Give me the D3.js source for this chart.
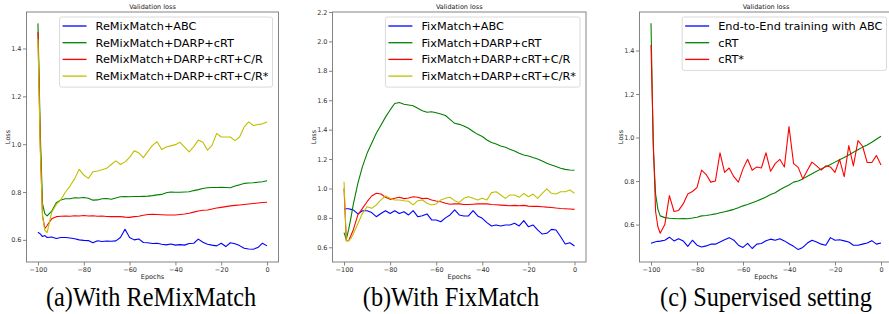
<!DOCTYPE html>
<html>
<head>
<meta charset="utf-8">
<script src="https://cdn.jsdelivr.net/npm/d3@7"></script>
<style>
  body { margin: 0; background: #fff; }
  svg { display: block; }
</style>
</head>
<body>
<div id="chart"></div>
<script>
// epochs on the x axis (finer steps where the curves drop)
var epochs = [-100, -99, -98, -97, -96, -94, -92, -90, -88, -86, -84, -82, -80, -78, -76, -74, -72, -70, -68, -66,
  -64, -62, -60, -58, -56, -54, -52, -50, -48, -46, -44, -42, -40, -38, -36, -34, -32, -30, -28, -26,
  -24, -22, -20, -18, -16, -14, -12, -10, -8, -6, -4, -2, 0];

// (a) ReMixMatch
var remixAbc = [0.632, 0.625, 0.614, 0.618, 0.610, 0.612, 0.606, 0.610, 0.610, 0.608, 0.605, 0.600, 0.598, 0.597, 0.588, 0.596, 0.593, 0.595, 0.594, 0.596,
  0.610, 0.644, 0.610, 0.600, 0.604, 0.589, 0.588, 0.585, 0.586, 0.582, 0.579, 0.583, 0.578, 0.580, 0.578, 0.585, 0.586, 0.603, 0.590, 0.582,
  0.578, 0.575, 0.586, 0.572, 0.588, 0.584, 0.576, 0.565, 0.562, 0.561, 0.568, 0.586, 0.575];
var remixDarp = [1.505, 1.05, 0.75, 0.71, 0.70, 0.72, 0.755, 0.767, 0.772, 0.772, 0.776, 0.775, 0.777, 0.774, 0.766, 0.767, 0.772, 0.773, 0.770, 0.775,
  0.780, 0.781, 0.780, 0.781, 0.781, 0.782, 0.783, 0.785, 0.788, 0.790, 0.797, 0.800, 0.799, 0.799, 0.800, 0.801, 0.806, 0.810, 0.815, 0.818,
  0.819, 0.819, 0.820, 0.819, 0.818, 0.825, 0.830, 0.836, 0.838, 0.839, 0.841, 0.843, 0.847];
var remixDarpCR = [1.47, 1.0, 0.70, 0.648, 0.66, 0.688, 0.697, 0.699, 0.700, 0.699, 0.701, 0.700, 0.702, 0.700, 0.701, 0.699, 0.700, 0.698, 0.697, 0.698,
  0.697, 0.695, 0.694, 0.697, 0.699, 0.703, 0.706, 0.707, 0.706, 0.705, 0.704, 0.704, 0.704, 0.706, 0.708, 0.711, 0.716, 0.721, 0.724, 0.725,
  0.729, 0.733, 0.736, 0.739, 0.742, 0.744, 0.746, 0.748, 0.750, 0.752, 0.754, 0.756, 0.757];
var remixDarpCRStar = [1.44, 0.98, 0.70, 0.64, 0.63, 0.715, 0.748, 0.767, 0.800, 0.825, 0.855, 0.895, 0.871, 0.857, 0.885, 0.888, 0.893, 0.899, 0.915, 0.930,
  0.915, 0.926, 0.945, 0.972, 0.964, 0.944, 0.970, 0.995, 1.010, 0.978, 0.988, 0.993, 0.998, 1.008, 0.988, 0.968, 0.990, 1.017, 1.008, 0.975,
  0.995, 1.045, 1.030, 1.030, 1.030, 1.015, 1.030, 1.072, 1.093, 1.078, 1.082, 1.085, 1.093];

// (b) FixMatch
var fixAbc = [0.860, 0.862, 0.862, 0.858, 0.854, 0.827, 0.849, 0.849, 0.836, 0.808, 0.830, 0.849, 0.830, 0.849, 0.830, 0.842, 0.820, 0.849, 0.808, 0.815,
  0.827, 0.786, 0.786, 0.774, 0.800, 0.820, 0.854, 0.820, 0.813, 0.813, 0.849, 0.813, 0.797, 0.768, 0.745, 0.752, 0.745, 0.752, 0.752, 0.763,
  0.745, 0.781, 0.740, 0.752, 0.718, 0.690, 0.695, 0.722, 0.718, 0.672, 0.622, 0.631, 0.609];
var fixDarp = [0.70, 0.655, 0.72, 0.80, 0.89, 1.035, 1.149, 1.239, 1.307, 1.375, 1.430, 1.485, 1.534, 1.578, 1.585, 1.573, 1.568, 1.562, 1.545, 1.529,
  1.518, 1.522, 1.515, 1.507, 1.496, 1.470, 1.443, 1.436, 1.425, 1.409, 1.387, 1.368, 1.353, 1.330, 1.312, 1.303, 1.289, 1.280, 1.266, 1.255,
  1.239, 1.228, 1.221, 1.210, 1.200, 1.187, 1.171, 1.160, 1.149, 1.138, 1.130, 1.126, 1.124];
var fixDarpCR = [1.0, 0.645, 0.645, 0.68, 0.718, 0.820, 0.865, 0.910, 0.949, 0.967, 0.962, 0.940, 0.926, 0.933, 0.940, 0.931, 0.935, 0.944, 0.940, 0.931,
  0.933, 0.922, 0.915, 0.910, 0.900, 0.893, 0.895, 0.895, 0.891, 0.891, 0.893, 0.895, 0.895, 0.895, 0.891, 0.889, 0.887, 0.885, 0.882, 0.885,
  0.882, 0.885, 0.880, 0.878, 0.878, 0.876, 0.873, 0.871, 0.867, 0.864, 0.862, 0.860, 0.858];
var fixDarpCRStar = [1.045, 0.645, 0.645, 0.66, 0.69, 0.760, 0.831, 0.876, 0.865, 0.888, 0.922, 0.949, 0.933, 0.922, 0.922, 0.917, 0.913, 0.888, 0.917, 0.922,
  0.900, 0.888, 0.895, 0.922, 0.933, 0.940, 0.917, 0.905, 0.933, 0.944, 0.933, 0.922, 0.933, 0.922, 0.972, 0.978, 0.956, 0.933, 0.956, 0.956,
  0.940, 0.967, 0.944, 0.962, 0.933, 0.967, 0.997, 0.967, 0.962, 0.978, 0.978, 0.990, 0.967];

// (c) supervised
var supAbc = [0.514, 0.518, 0.521, 0.523, 0.524, 0.528, 0.542, 0.525, 0.535, 0.525, 0.500, 0.528, 0.505, 0.497, 0.502, 0.510, 0.510, 0.520, 0.530, 0.540,
  0.528, 0.505, 0.495, 0.514, 0.490, 0.510, 0.513, 0.526, 0.533, 0.528, 0.535, 0.525, 0.512, 0.500, 0.485, 0.495, 0.515, 0.528, 0.520, 0.510,
  0.505, 0.540, 0.528, 0.530, 0.525, 0.520, 0.505, 0.505, 0.510, 0.515, 0.526, 0.510, 0.515];
var supCrt = [1.525, 0.95, 0.74, 0.67, 0.64, 0.632, 0.629, 0.628, 0.627, 0.628, 0.627, 0.630, 0.634, 0.640, 0.642, 0.645, 0.649, 0.654, 0.659, 0.664,
  0.670, 0.677, 0.686, 0.692, 0.700, 0.708, 0.717, 0.727, 0.738, 0.746, 0.760, 0.772, 0.782, 0.795, 0.800, 0.810, 0.822, 0.834, 0.845, 0.856,
  0.866, 0.876, 0.887, 0.898, 0.908, 0.920, 0.932, 0.944, 0.956, 0.966, 0.978, 0.992, 1.006];
var supCrtStar = [1.425, 0.98, 0.66, 0.59, 0.56, 0.60, 0.733, 0.660, 0.665, 0.695, 0.741, 0.752, 0.770, 0.850, 0.830, 0.795, 0.800, 0.930, 0.840, 0.860,
  0.820, 0.795, 0.856, 0.900, 0.850, 0.865, 0.860, 0.930, 0.845, 0.880, 0.900, 0.865, 1.050, 0.880, 0.863, 0.810, 0.850, 0.887, 0.870, 0.850,
  0.870, 0.865, 0.840, 0.900, 0.820, 0.963, 0.870, 0.986, 0.960, 0.885, 0.885, 0.917, 0.874];

var remixLabels = ["ReMixMatch+ABC", "ReMixMatch+DARP+cRT", "ReMixMatch+DARP+cRT+C/R", "ReMixMatch+DARP+cRT+C/R*"];
var fixLabels = ["FixMatch+ABC", "FixMatch+DARP+cRT", "FixMatch+DARP+cRT+C/R", "FixMatch+DARP+cRT+C/R*"];
var supLabels = ["End-to-End training with ABC", "cRT", "cRT*"];
var captions = ["(a)With ReMixMatch", "(b)With FixMatch", "(c) Supervised setting"];

var xTicks = [-100, -80, -60, -40, -20, 0];
var yTicksA = [0.6, 0.8, 1.0, 1.2, 1.4];
var yTicksB = [0.6, 0.8, 1.0, 1.2, 1.4, 1.6, 1.8, 2.0, 2.2];
var yTicksC = [0.6, 0.8, 1.0, 1.2, 1.4];

var colors = ["#0000ff", "#008000", "#ff0000", "#bfbf00"];

var width = 889, height = 314;
var plotTop = 12, plotBottom = 262;

var svg = d3.select("#chart")
  .append("svg")
  .attr("width", width)
  .attr("height", height)
  .style("font-family", "'DejaVu Sans', sans-serif");

var panels = [
  { left: 26.5, right: 278.5, yDomain: [0.5075, 1.5525], yTicks: yTicksA,
    series: [remixAbc, remixDarp, remixDarpCR, remixDarpCRStar], labels: remixLabels, caption: captions[0], capX: 151 },
  { left: 332.5, right: 586, yDomain: [0.5, 2.2], yTicks: yTicksB,
    series: [fixAbc, fixDarp, fixDarpCR, fixDarpCRStar], labels: fixLabels, caption: captions[1], capX: 451 },
  { left: 639.5, right: 892.5, yDomain: [0.428, 1.577], yTicks: yTicksC,
    series: [supAbc, supCrt, supCrtStar], labels: supLabels, caption: captions[2], capX: 766 }
];

var minus = function (v) { return v < 0 ? "\u2212" + Math.abs(v) : String(v); };

panels.forEach(function (p, pi) {
  var x = d3.scaleLinear().domain([-105, 5]).range([p.left, p.right]);
  var y = d3.scaleLinear().domain(p.yDomain).range([plotBottom, plotTop]);
  var g = svg.append("g");

  g.append("clipPath").attr("id", "clip" + pi)
    .append("rect")
    .attr("x", p.left).attr("y", plotTop)
    .attr("width", p.right - p.left).attr("height", plotBottom - plotTop);

  // x axis
  var xa = g.append("g")
    .attr("transform", "translate(0," + plotBottom + ")")
    .call(d3.axisBottom(x).tickValues(xTicks).tickSize(3.5).tickPadding(1.5).tickFormat(minus));
  // y axis
  var ya = g.append("g")
    .attr("transform", "translate(" + p.left + ",0)")
    .call(d3.axisLeft(y).tickValues(p.yTicks).tickSize(3.5).tickPadding(1.5).tickFormat(d3.format(".1f")));
  [xa, ya].forEach(function (a) {
    a.select(".domain").remove();
    a.selectAll("line").attr("stroke", "#666").attr("stroke-width", 0.8);
    a.selectAll("text").attr("fill", "#333").style("font-size", "6.5px").style("font-family", "'DejaVu Sans', sans-serif");
  });

  // lines
  var line = d3.line()
    .x(function (d, i) { return x(epochs[i]); })
    .y(function (d) { return y(d); });
  var lg = g.append("g").attr("clip-path", "url(#clip" + pi + ")");
  p.series.forEach(function (s, i) {
    lg.append("path")
      .datum(s)
      .attr("d", line)
      .attr("fill", "none")
      .attr("stroke", colors[i])
      .attr("stroke-width", 1.1)
      .attr("stroke-linejoin", "round");
  });

  // frame
  g.append("rect")
    .attr("x", p.left).attr("y", plotTop)
    .attr("width", p.right - p.left).attr("height", plotBottom - plotTop)
    .attr("fill", "none").attr("stroke", "#777").attr("stroke-width", 0.9);

  // title and axis labels
  var cx = (p.left + p.right) / 2;
  g.append("text").attr("x", cx).attr("y", 8.5).attr("text-anchor", "middle")
    .style("font-size", "6.5px").attr("fill", "#222").text("Validation loss");
  g.append("text").attr("x", cx).attr("y", 279).attr("text-anchor", "middle")
    .style("font-size", "6.5px").attr("fill", "#222").text("Epochs");
  g.append("text")
    .attr("transform", "translate(" + (p.left - 17) + "," + ((plotTop + plotBottom) / 2) + ") rotate(-90)")
    .attr("text-anchor", "middle")
    .style("font-size", "6.5px").attr("fill", "#222").text("Loss");

  // legend
  var leg = g.append("g");
  var box = leg.append("rect").attr("fill", "#fff").attr("fill-opacity", 0.8)
    .attr("stroke", "#d0d0d0").attr("stroke-width", 0.8).attr("rx", 2);
  var maxW = 0;
  var texts = p.labels.map(function (lab, i) {
    var t = leg.append("text").style("font-size", "11.3px").attr("fill", "#000").text(lab);
    maxW = Math.max(maxW, t.node().getComputedTextLength());
    return t;
  });
  var boxW = 3 + 24 + 9 + maxW + 4;
  var bx = p.right - 6 - boxW, by = 17, rowH = 16.7;
  box.attr("x", bx).attr("y", by).attr("width", boxW).attr("height", 9 + rowH * (p.labels.length - 1) + 11);
  texts.forEach(function (t, i) {
    var cy = by + 9 + rowH * i;
    leg.append("line")
      .attr("x1", bx + 3).attr("x2", bx + 27)
      .attr("y1", cy).attr("y2", cy)
      .attr("stroke", colors[i]).attr("stroke-width", 1.3);
    t.attr("x", bx + 36).attr("y", cy).attr("dy", "0.36em");
  });

  // caption (taller, slightly condensed serif)
  svg.append("text")
    .attr("transform", "translate(" + p.capX + ",306) scale(0.9,1)")
    .attr("text-anchor", "middle")
    .style("font-family", "'Liberation Serif', 'Times New Roman', serif")
    .style("font-size", "27px")
    .attr("fill", "#000")
    .text(p.caption);
});
</script>
</body>
</html>
